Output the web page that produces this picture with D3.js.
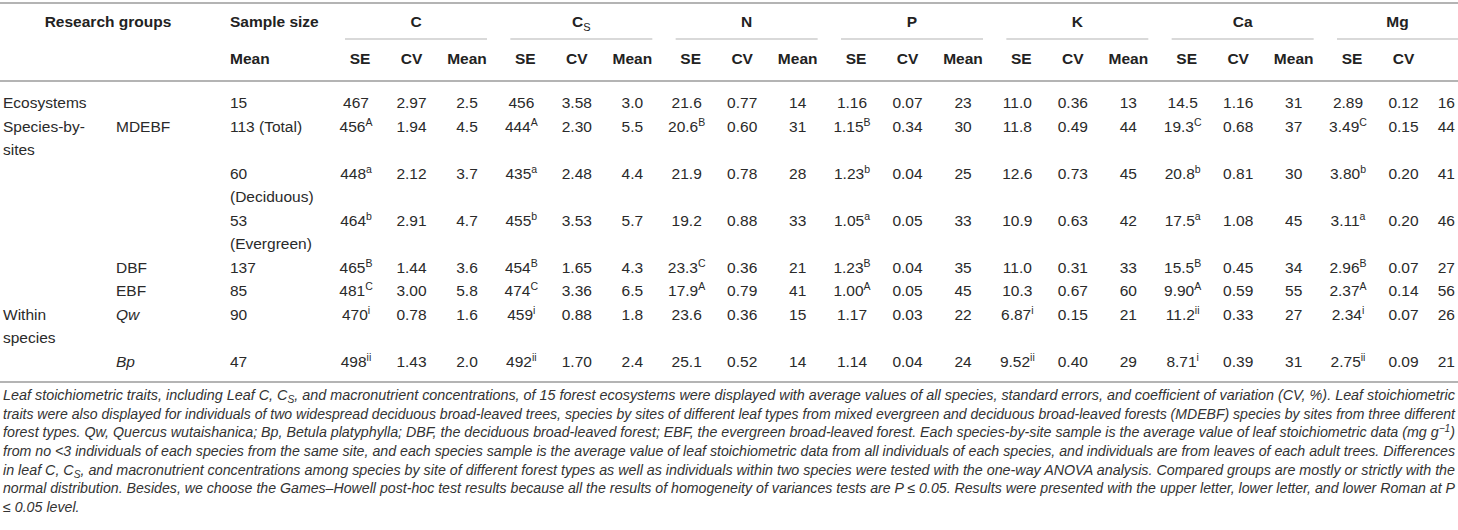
<!DOCTYPE html>
<html>
<head>
<meta charset="utf-8">
<script src="https://cdn.jsdelivr.net/npm/d3@7"></script>
<style>
  html, body { margin: 0; padding: 0; background: #fff; }
  svg { display: block; font-family: "Liberation Sans", Arial, Helvetica, sans-serif; }
  .hd { font-weight: bold; font-size: 15.5px; fill: #222; }
  .cell { font-size: 15.5px; fill: #2a2a2a; }
  .note { font-size: 14px; font-style: italic; fill: #333; }
  .rule { stroke: #b4b4b4; }
</style>
</head>
<body>
<div id="table"></div>
<script>
'use strict';

// ─── Дані таблиці ───────────────────────────────────────────
const groupLabels  = ['Ecosystems', 'Species-by-\nsites', '', '', '', '', 'Within\nspecies', ''];
const subLabels    = ['', 'MDEBF', '', '', 'DBF', 'EBF', 'Qw', 'Bp'];
const subItalic    = [false, false, false, false, false, false, true, true];
const sampleSizes  = ['15', '113 (Total)', '60\n(Deciduous)', '53\n(Evergreen)', '137', '85', '90', '47'];

const elements = ['C', 'CS', 'N', 'P', 'K', 'Ca', 'Mg'];
const statCols = ['SE', 'CV', 'Mean'];

// значення: [SE, надрядковий індекс], CV, Mean
const cSE   = [['467',''],['456','A'],['448','a'],['464','b'],['465','B'],['481','C'],['470','i'],['498','ii']];
const cCV   = ['2.97','1.94','2.12','2.91','1.44','3.00','0.78','1.43'];
const cMean = ['2.5','4.5','3.7','4.7','3.6','5.8','1.6','2.0'];

const csSE   = [['456',''],['444','A'],['435','a'],['455','b'],['454','B'],['474','C'],['459','i'],['492','ii']];
const csCV   = ['3.58','2.30','2.48','3.53','1.65','3.36','0.88','1.70'];
const csMean = ['3.0','5.5','4.4','5.7','4.3','6.5','1.8','2.4'];

const nSE   = [['21.6',''],['20.6','B'],['21.9',''],['19.2',''],['23.3','C'],['17.9','A'],['23.6',''],['25.1','']];
const nCV   = ['0.77','0.60','0.78','0.88','0.36','0.79','0.36','0.52'];
const nMean = ['14','31','28','33','21','41','15','14'];

const pSE   = [['1.16',''],['1.15','B'],['1.23','b'],['1.05','a'],['1.23','B'],['1.00','A'],['1.17',''],['1.14','']];
const pCV   = ['0.07','0.34','0.04','0.05','0.04','0.05','0.03','0.04'];
const pMean = ['23','30','25','33','35','45','22','24'];

const kSE   = [['11.0',''],['11.8',''],['12.6',''],['10.9',''],['11.0',''],['10.3',''],['6.87','i'],['9.52','ii']];
const kCV   = ['0.36','0.49','0.73','0.63','0.31','0.67','0.15','0.40'];
const kMean = ['13','44','45','42','33','60','21','29'];

const caSE   = [['14.5',''],['19.3','C'],['20.8','b'],['17.5','a'],['15.5','B'],['9.90','A'],['11.2','ii'],['8.71','i']];
const caCV   = ['1.16','0.68','0.81','1.08','0.45','0.59','0.33','0.39'];
const caMean = ['31','37','30','45','34','55','27','31'];

const mgSE   = [['2.89',''],['3.49','C'],['3.80','b'],['3.11','a'],['2.96','B'],['2.37','A'],['2.34','i'],['2.75','ii']];
const mgCV   = ['0.12','0.15','0.20','0.20','0.07','0.14','0.07','0.09'];
const mgMean = ['16','44','41','46','27','56','26','21'];

const seByEl   = [cSE, csSE, nSE, pSE, kSE, caSE, mgSE];
const cvByEl   = [cCV, csCV, nCV, pCV, kCV, caCV, mgCV];
const meanByEl = [cMean, csMean, nMean, pMean, kMean, caMean, mgMean];

const noteLines = [
  'Leaf stoichiometric traits, including Leaf C, C{S}, and macronutrient concentrations, of 15 forest ecosystems were displayed with average values of all species, standard errors, and coefficient of variation (CV, %). Leaf stoichiometric',
  'traits were also displayed for individuals of two widespread deciduous broad-leaved trees, species by sites of different leaf types from mixed evergreen and deciduous broad-leaved forests (MDEBF) species by sites from three different',
  'forest types. Qw, Quercus wutaishanica; Bp, Betula platyphylla; DBF, the deciduous broad-leaved forest; EBF, the evergreen broad-leaved forest. Each species-by-site sample is the average value of leaf stoichiometric data (mg g^{−1})',
  'from no <3 individuals of each species from the same site, and each species sample is the average value of leaf stoichiometric data from all individuals of each species, and individuals are from leaves of each adult trees. Differences',
  'in leaf C, C{S}, and macronutrient concentrations among species by site of different forest types as well as individuals within two species were tested with the one-way ANOVA analysis. Compared groups are mostly or strictly with the',
  'normal distribution. Besides, we choose the Games–Howell post-hoc test results because all the results of homogeneity of variances tests are P ≤ 0.05. Results were presented with the upper letter, lower letter, and lower Roman at P',
  '≤ 0.05 level.'
];

// ─── Розмітка ───────────────────────────────────────────────
const W = 1458, H = 530;
const svg = d3.select('#table').append('svg').attr('width', W).attr('height', H);

// кількість рядків тексту в кожному рядку таблиці
const nLines = groupLabels.map((g, i) =>
  Math.max(g.split('\n').length, sampleSizes[i].split('\n').length));
const lineStart = d3.cumsum([0, ...nLines]).slice(0, nLines.length);
const totalLines = d3.sum(nLines);

const yLine  = d3.scaleLinear().domain([0, totalLines - 1]).range([108, 366.5]);
const xGroup = d3.scaleLinear().domain([0, elements.length - 1]).range([356, 1348]);
const xStat  = d3.scalePoint().domain(statCols).range([0, 111]);
const colX = (ei, stat) => Math.min(xGroup(ei) + xStat(stat), W - 11);

const X_GROUP = 3, X_SUB = 116, X_SIZE = 230;

// лінійки
const rule = (x1, x2, y, w) => svg.append('line').attr('class', 'rule')
  .attr('x1', x1).attr('x2', x2).attr('y1', y).attr('y2', y).attr('stroke-width', w);
rule(0, W, 3, 2);
rule(0, W, 81, 2);
rule(0, W, 382, 2);

// ─── Заголовок ──────────────────────────────────────────────
svg.append('text').attr('class', 'hd').attr('x', 108).attr('y', 27)
  .attr('text-anchor', 'middle').text('Research groups');
svg.append('text').attr('class', 'hd').attr('x', X_SIZE).attr('y', 27).text('Sample size');
svg.append('text').attr('class', 'hd').attr('x', X_SIZE).attr('y', 64).text('Mean');

elements.forEach((el, ei) => {
  const x1 = xGroup(ei) - 11;
  const x2 = Math.min(xGroup(ei) + 131, W);
  rule(x1, x2, 39, 1.2);
  const t = svg.append('text').attr('class', 'hd').attr('x', (x1 + x2) / 2).attr('y', 27)
    .attr('text-anchor', 'middle');
  if (el === 'CS') {
    t.append('tspan').text('C');
    t.append('tspan').attr('font-size', 11).attr('font-weight', 'normal').attr('dy', 4).text('S');
  } else {
    t.text(el);
  }
  const stats = el === 'Mg' ? statCols.slice(0, 2) : statCols;
  stats.forEach(s => {
    svg.append('text').attr('class', 'hd').attr('x', colX(ei, s) + (s === 'SE' ? 4 : 0)).attr('y', 64)
      .attr('text-anchor', 'middle').text(s);
  });
});

// ─── Тіло таблиці ───────────────────────────────────────────
function multiLine(x, row, str, italic) {
  str.split('\n').forEach((part, k) => {
    if (!part) return;
    svg.append('text').attr('class', 'cell').attr('x', x).attr('y', yLine(lineStart[row] + k))
      .attr('font-style', italic ? 'italic' : null).text(part);
  });
}

function cellWithSup(x, y, val, sup, anchor) {
  const t = svg.append('text').attr('class', 'cell').attr('x', x).attr('y', y)
    .attr('text-anchor', anchor || 'middle');
  t.append('tspan').text(val);
  if (sup) t.append('tspan').attr('font-size', 10.5).attr('dy', -6).text(sup);
}

groupLabels.forEach((g, i) => {
  multiLine(X_GROUP, i, g, false);
  multiLine(X_SUB, i, subLabels[i], subItalic[i]);
  multiLine(X_SIZE, i, sampleSizes[i], false);

  const y = yLine(lineStart[i]);
  elements.forEach((el, ei) => {
    const [se, sup] = seByEl[ei][i];
    cellWithSup(colX(ei, 'SE'), y, se, sup);
    cellWithSup(colX(ei, 'CV'), y, cvByEl[ei][i], '');
    if (el === 'Mg') cellWithSup(W - 3, y, meanByEl[ei][i], '', 'end');
    else cellWithSup(colX(ei, 'Mean'), y, meanByEl[ei][i], '');
  });
});

// ─── Примітка (вузький курсив: стискаємо гліфи до ширини) ───
const yNote = d3.scaleLinear().domain([0, noteLines.length - 1]).range([400, 512]);
const noteNodes = noteLines.map((line, k) => {
  const t = svg.append('text').attr('class', 'note').attr('x', 3).attr('y', yNote(k));
  // розбиваємо на звичайний текст, {підрядковий} та ^{надрядковий}
  const parts = line.split(/(\^\{[^}]*\}|\{[^}]*\})/);
  let shift = 0;
  parts.forEach(p => {
    if (!p) return;
    if (p.startsWith('^{')) {
      t.append('tspan').attr('font-size', 10).attr('dy', -5 - shift).text(p.slice(2, -1));
      shift = -5;
    } else if (p.startsWith('{')) {
      t.append('tspan').attr('font-size', 10).attr('dy', 3 - shift).text(p.slice(1, -1));
      shift = 3;
    } else {
      t.append('tspan').attr('dy', -shift).text(p);
      shift = 0;
    }
  });
  return t;
});

const ratios = [];
noteNodes.forEach((t, k) => {
  const natural = t.node().getComputedTextLength();
  if (k < noteNodes.length - 1) {
    ratios.push((W - 6) / natural);
    t.attr('textLength', W - 6).attr('lengthAdjust', 'spacingAndGlyphs');
  } else {
    t.attr('textLength', natural * d3.mean(ratios)).attr('lengthAdjust', 'spacingAndGlyphs');
  }
});
</script>
</body>
</html>
